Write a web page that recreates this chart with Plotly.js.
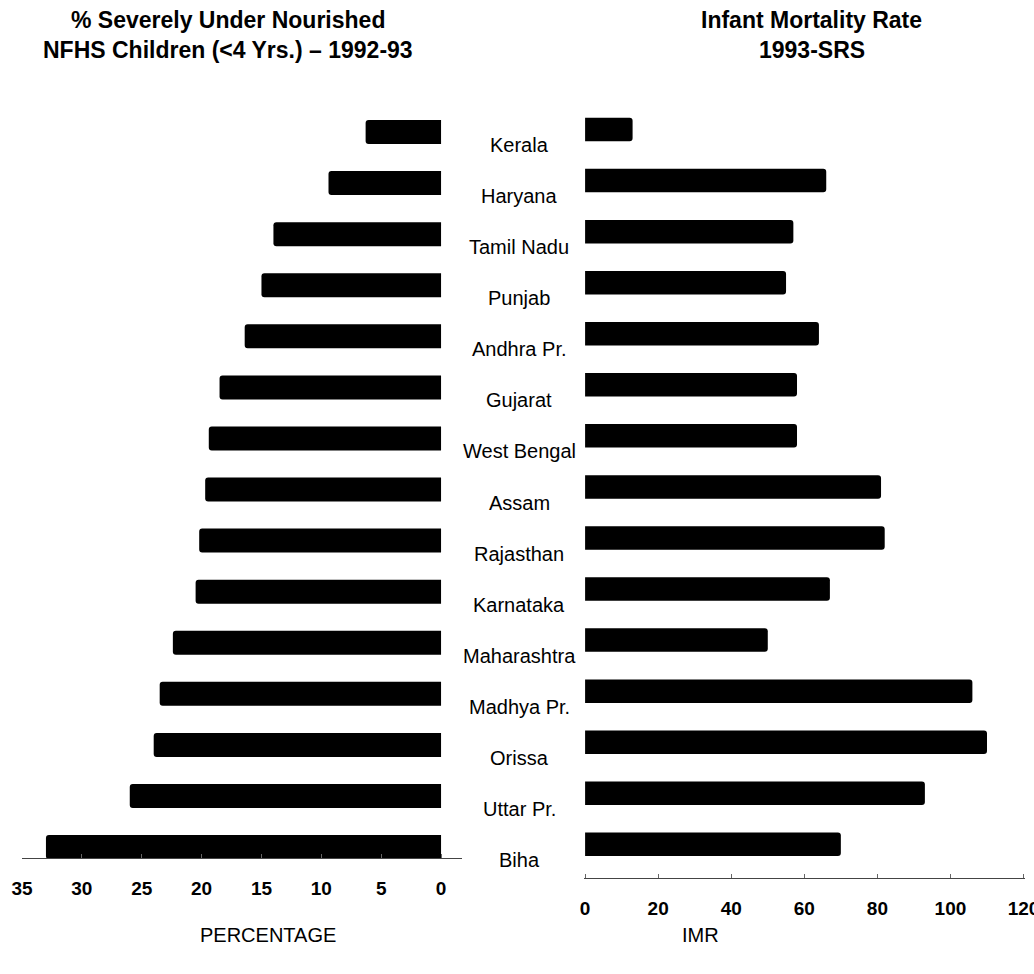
<!DOCTYPE html>
<html>
<head>
<meta charset="utf-8">
<script src="https://cdn.plot.ly/plotly-3.0.1.min.js"></script>
<style>html,body{margin:0;padding:0;background:#fff;}#chart{width:1034px;height:974px;}</style>
</head>
<body>
<div id="chart"></div>
<script>
var states = ["Kerala","Haryana","Tamil Nadu","Punjab","Andhra Pr.","Gujarat","West Bengal","Assam","Rajasthan","Karnataka","Maharashtra","Madhya Pr.","Orissa","Uttar Pr.","Biha"];
var underNourished = [6.3, 9.4, 14.0, 15.0, 16.4, 18.5, 19.4, 19.7, 20.2, 20.5, 22.4, 23.5, 24.0, 26.0, 33.0];
var imr = [13, 66, 57, 55, 64, 58, 58, 81, 82, 67, 50, 106, 110, 93, 70];
var pctTicks = [35, 30, 25, 20, 15, 10, 5, 0];
var imrTicks = [0, 20, 40, 60, 80, 100, 120];

var W = 1034, H = 974;
function px(x){ return x / W; }
function py(y){ return (H - y) / H; }
var FONT = "Liberation Sans, Arial, sans-serif";

var traces = [
  {type: "bar", orientation: "h", x: underNourished, y: states, xaxis: "x", yaxis: "y",
   marker: {color: "#000", cornerradius: 3}, width: 0.47, hoverinfo: "x+y"},
  {type: "bar", orientation: "h", x: imr, y: states, xaxis: "x2", yaxis: "y2",
   marker: {color: "#000", cornerradius: 3}, width: 0.46, hoverinfo: "x+y"}
];

var annotations = [];
states.forEach(function(s){
  annotations.push({text: s, x: px(519), xref: "paper", y: s, yref: "y", yshift: -13,
    showarrow: false, xanchor: "center", yanchor: "middle",
    font: {family: FONT, size: 20, color: "#000"}});
});
var titleFont = {family: FONT, size: 23, color: "#000", weight: "bold"};
annotations.push({text: "% Severely Under Nourished", x: px(228), y: py(20), xref: "paper", yref: "paper",
  showarrow: false, xanchor: "center", yanchor: "middle", font: titleFont});
annotations.push({text: "NFHS Children (<4 Yrs.) \u2013 1992-93", x: px(228), y: py(50), xref: "paper", yref: "paper",
  showarrow: false, xanchor: "center", yanchor: "middle", font: titleFont});
annotations.push({text: "Infant Mortality Rate", x: px(811), y: py(20), xref: "paper", yref: "paper",
  showarrow: false, xanchor: "center", yanchor: "middle", font: titleFont});
annotations.push({text: "1993-SRS", x: px(812), y: py(50), xref: "paper", yref: "paper",
  showarrow: false, xanchor: "center", yanchor: "middle", font: titleFont});
annotations.push({text: "PERCENTAGE", x: px(268), y: py(935), xref: "paper", yref: "paper",
  showarrow: false, xanchor: "center", yanchor: "middle", font: {family: FONT, size: 20, color: "#000"}});
annotations.push({text: "IMR", x: px(700), y: py(935), xref: "paper", yref: "paper",
  showarrow: false, xanchor: "center", yanchor: "middle", font: {family: FONT, size: 20, color: "#000"}});

var tickFont = {family: FONT, size: 19, color: "#000", weight: "bold"};
var layout = {
  width: W, height: H,
  margin: {l: 0, r: 0, t: 0, b: 0},
  paper_bgcolor: "#fff", plot_bgcolor: "rgba(0,0,0,0)",
  showlegend: false,
  xaxis: {domain: [px(22), px(462)], range: [35, -1.75], anchor: "y",
    tickvals: pctTicks, ticktext: pctTicks.map(String),
    showgrid: false, zeroline: false, showline: true, linecolor: "#444", linewidth: 1,
    ticks: "inside", ticklen: 4, tickcolor: "#666", ticklabelstandoff: 13,
    ticklabeloverflow: "allow", tickfont: tickFont, fixedrange: true},
  yaxis: {domain: [py(858), py(106.5)], type: "category", categoryarray: states,
    range: [14.215, -0.5], showticklabels: false, showgrid: false, zeroline: false,
    showline: false, ticks: "", fixedrange: true},
  xaxis2: {domain: [px(584), px(1025)], range: [-0.3, 120.4], anchor: "y2",
    tickvals: imrTicks, ticktext: imrTicks.map(String),
    showgrid: false, zeroline: false, showline: true, linecolor: "#444", linewidth: 1,
    ticks: "inside", ticklen: 4, tickcolor: "#666", ticklabelstandoff: 13,
    ticklabeloverflow: "allow", tickfont: tickFont, fixedrange: true},
  yaxis2: {domain: [py(878), py(104)], type: "category", categoryarray: states,
    range: [14.66, -0.5], showticklabels: false, showgrid: false, zeroline: false,
    showline: false, ticks: "", fixedrange: true, anchor: "x2"},
  annotations: annotations
};

Plotly.newPlot("chart", traces, layout, {displayModeBar: false, staticPlot: true});
</script>
</body>
</html>
